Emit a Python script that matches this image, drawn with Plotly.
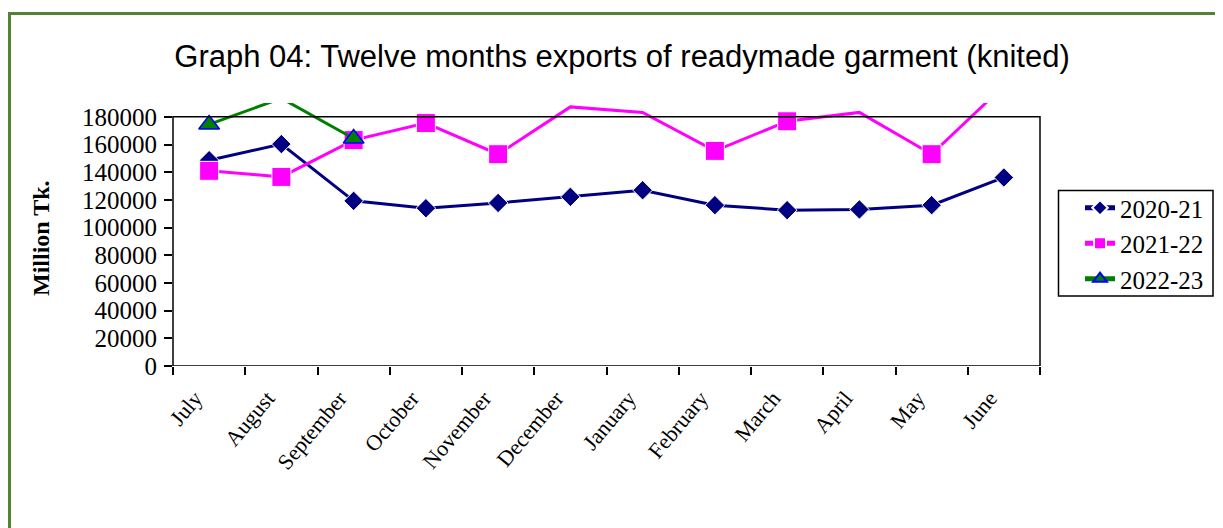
import plotly.graph_objects as go

months = ["July", "August", "September", "October", "November", "December",
          "January", "February", "March", "April", "May", "June"]
fy2020_21 = [148700, 160300, 119300, 114000, 117800, 122200, 127000, 116200, 112600, 113100, 116200, 136200]
fy2021_22 = [141000, 136600, 163200, 175500, 153000, 187200, 183200, 155400, 176800, 183200, 153000, 202400]
fy2022_23 = [174500, 193400, 164400]
series_names = ["2020-21", "2021-22", "2022-23"]
y_ticks = [0, 20000, 40000, 60000, 80000, 100000, 120000, 140000, 160000, 180000]

# page body has an 8px margin: work in screen coords and shift
OFF = 8
W, H = 1223 - OFF, 528 - OFF
PX0, PX1 = 173 - OFF, 1040 - OFF      # plot area left/right (figure px)
PY0, PY1 = 103 - OFF, 366 - OFF       # plot area top/bottom (figure px)
L, R, T, B = PX0, W - PX1, PY0, H - PY1
PW, PH = PX1 - PX0, PY1 - PY0
y_top_tick = y_ticks[-1]
y_range_max = 190000

serif = "Liberation Serif, Times New Roman, serif"
sans = "Liberation Sans, Arial, sans-serif"


def px_x(sx):
    return (sx - OFF - PX0) / PW


def px_y(sy):
    return (PY1 - (sy - OFF)) / PH


def sizes(vals, s):
    return [s if v <= y_top_tick else 0 for v in vals]


def widths(vals, w):
    return [w if v <= y_top_tick else 0 for v in vals]


fig = go.Figure()
fig.add_trace(go.Scatter(
    x=months, y=fy2020_21, name=series_names[0], mode="lines+markers",
    line=dict(color="#000080", width=3),
    marker=dict(symbol="diamond", color="#000080", opacity=1, size=sizes(fy2020_21, 15)),
))
fig.add_trace(go.Scatter(
    x=months, y=fy2021_22, name=series_names[1], mode="lines+markers",
    line=dict(color="#FF00FF", width=3),
    marker=dict(symbol="square", color="#FF00FF", opacity=1, size=sizes(fy2021_22, 19)),
))
fig.add_trace(go.Scatter(
    x=months[:len(fy2022_23)], y=fy2022_23, name=series_names[2], mode="lines+markers",
    line=dict(color="#008000", width=3),
    marker=dict(symbol="triangle-up", color="#008000", opacity=1, size=sizes(fy2022_23, 18),
                line=dict(color="#0000FF", width=widths(fy2022_23, 1.5))),
))

# plot-area frame (0 .. top tick)
fig.add_shape(type="rect", xref="x domain", yref="y", x0=0, x1=1, y0=0, y1=y_top_tick,
              line=dict(color="black", width=1.5), fillcolor="rgba(0,0,0,0)", layer="above")
# outer green border
fig.add_shape(type="rect", xref="paper", yref="paper",
              x0=px_x(9.5), x1=px_x(1270), y0=px_y(600), y1=px_y(13.5),
              line=dict(color="#548235", width=3), fillcolor="rgba(0,0,0,0)")
# legend box
fig.add_shape(type="rect", xref="paper", yref="paper",
              x0=px_x(1058.5), x1=px_x(1213), y0=px_y(296), y1=px_y(190.5),
              line=dict(color="black", width=1.5), fillcolor="rgba(0,0,0,0)")

fig.add_annotation(text="Million Tk.", xref="paper", yref="paper",
                   x=px_x(41), y=px_y(238),
                   textangle=-90, showarrow=False, xanchor="center", yanchor="middle",
                   font=dict(family=serif, size=24, color="black", weight="bold"))

fig.update_layout(
    width=W, height=H,
    margin=dict(l=L, r=R, t=T, b=B, autoexpand=False),
    paper_bgcolor="white", plot_bgcolor="white",
    title=dict(text="Graph 04: Twelve months exports of readymade garment (knited)",
               x=(622 - OFF) / W, xref="container", xanchor="center",
               y=1 - (56 - OFF) / H, yref="container", yanchor="middle",
               font=dict(family=sans, size=31, color="black")),
    xaxis=dict(type="category", range=[-0.5, len(months) - 0.5],
               tickson="boundaries", ticks="outside", ticklen=8,
               tickcolor="black", tickwidth=1.5, showgrid=False, zeroline=False,
               showline=False, tickangle=-50, ticklabelstandoff=14, ticklabelshift=-14,
               tickfont=dict(family=serif, size=22, color="black")),
    yaxis=dict(range=[0, y_range_max], tickvals=y_ticks, tickformat="d",
               ticks="outside", ticklen=8, tickcolor="black", tickwidth=1.5,
               showgrid=False, zeroline=False, showline=False, ticklabelstandoff=2,
               tickfont=dict(family=serif, size=25, color="black")),
    legend=dict(x=px_x(1080), y=px_y(185),
                xanchor="left", yanchor="top",
                borderwidth=0, bgcolor="rgba(0,0,0,0)",
                font=dict(family=serif, size=25, color="black"),
                itemsizing="constant", tracegroupgap=0),
    showlegend=True,
)

fig.write_html("out.html")
